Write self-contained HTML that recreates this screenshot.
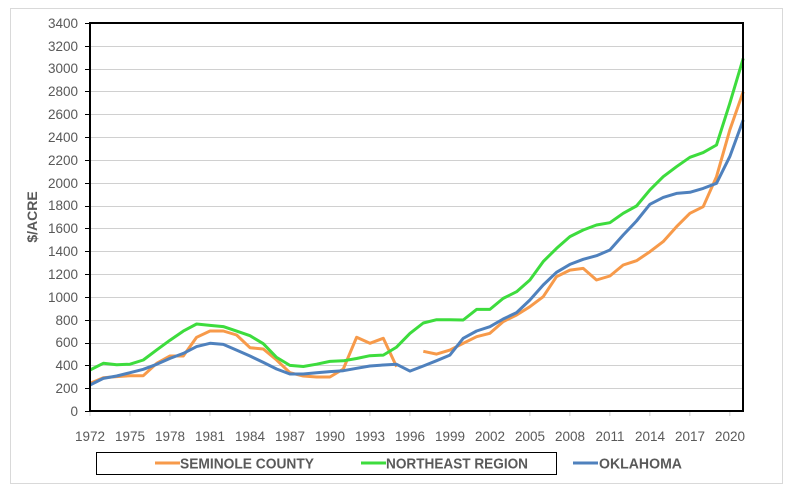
<!DOCTYPE html>
<html><head><meta charset="utf-8"><style>
body{margin:0;background:#fff;width:785px;height:496px;overflow:hidden;font-family:"Liberation Sans",sans-serif}
svg text{font-family:"Liberation Sans",sans-serif}
</style></head><body>
<svg id="s" width="785" height="496" xmlns="http://www.w3.org/2000/svg">
<rect x="10.5" y="8.5" width="772" height="475" fill="none" stroke="#d9d9d9"/>
<g id="grid" stroke="#d0d0d0" stroke-width="1"></g>
<g font-size="13.5" fill="#595959" text-anchor="end">
<text x="78" y="416">0</text><text x="78" y="393">200</text><text x="78" y="370">400</text><text x="78" y="347">600</text><text x="78" y="325">800</text><text x="78" y="302">1000</text><text x="78" y="279">1200</text><text x="78" y="256">1400</text><text x="78" y="233">1600</text><text x="78" y="210">1800</text><text x="78" y="188">2000</text><text x="78" y="165">2200</text><text x="78" y="142">2400</text><text x="78" y="119">2600</text><text x="78" y="96">2800</text><text x="78" y="73">3000</text><text x="78" y="51">3200</text><text x="78" y="28">3400</text>
</g>
<g font-size="13.5" fill="#595959" text-anchor="middle">
<text x="90" y="441">1972</text><text x="130" y="441">1975</text><text x="170" y="441">1978</text><text x="210" y="441">1981</text><text x="250" y="441">1984</text><text x="290" y="441">1987</text><text x="330" y="441">1990</text><text x="370" y="441">1993</text><text x="410" y="441">1996</text><text x="450" y="441">1999</text><text x="490" y="441">2002</text><text x="530" y="441">2005</text><text x="570" y="441">2008</text><text x="610" y="441">2011</text><text x="650" y="441">2014</text><text x="690" y="441">2017</text><text x="730" y="441">2020</text>
</g>
<text transform="translate(37,217) rotate(-90)" font-size="14" font-weight="bold" fill="#595959" text-anchor="middle">$/ACRE</text>
<g id="lines" fill="none" stroke-width="3" stroke-linejoin="round"></g>
<rect x="90" y="23" width="653" height="388" fill="none" stroke="#000" stroke-width="2"/>
<rect x="96.5" y="452.5" width="460" height="22" fill="#fff" stroke="#000"/>
<line x1="155" y1="463" x2="180" y2="463" stroke="#f79a4a" stroke-width="3"/>
<line x1="361" y1="463" x2="386" y2="463" stroke="#3ddc3d" stroke-width="3"/>
<line x1="573" y1="463" x2="598" y2="463" stroke="#4f81bd" stroke-width="3"/>
<g font-size="14.5" font-weight="bold" fill="#595959">
<text x="180" y="468.5" textLength="134" lengthAdjust="spacingAndGlyphs">SEMINOLE COUNTY</text>
<text x="386" y="468.5" textLength="142" lengthAdjust="spacingAndGlyphs">NORTHEAST REGION</text>
<text x="599" y="468.5" textLength="83" lengthAdjust="spacingAndGlyphs">OKLAHOMA</text>
</g>
</svg>
<script>
var X=function(y){return 90+(y-1972)*13.33},Y=function(v){return 411-v*0.11412};
var g=document.getElementById('grid'),h='';
for(var i=1;i<=16;i++){var yy=Math.round(Y(i*200))+0.5;h+='<line x1="90" x2="743" y1="'+yy+'" y2="'+yy+'"/>';}
for(var i=0;i<=17;i++){var yy=Math.round(Y(i*200))+0.5;h+='<line x1="85" x2="90" y1="'+yy+'" y2="'+yy+'" stroke="#000"/>';}
for(var y=1972;y<=2021;y+=3){h+='<line x1="'+X(y)+'" x2="'+X(y)+'" y1="411" y2="416" stroke="#d0d0d0"/>';}
g.innerHTML=h;
var green=[359,418,405,410,447,535,620,700,762,750,740,700,660,590,470,400,390,410,435,440,460,485,490,560,680,771,800,800,797,890,890,987,1045,1148,1309,1425,1528,1586,1630,1650,1732,1796,1937,2053,2141,2223,2264,2331,2696,3090];
var orange=[242,292,301,309,309,418,482,482,646,701,701,666,555,543,447,336,307,298,298,368,646,593,637,388,null,523,499,534,593,651,681,783,841,914,1002,1177,1235,1250,1148,1183,1279,1317,1396,1484,1615,1732,1790,2053,2462,2798];
var blue=[228,286,307,336,365,409,461,505,564,593,584,534,482,426,368,324,324,336,345,353,374,394,403,409,350,394,441,490,637,701,739,806,862,973,1104,1215,1285,1329,1361,1411,1542,1665,1811,1872,1907,1916,1951,1995,2229,2550];
function pl(d,c){var segs=[],cur=[];d.forEach(function(v,i){if(v==null){if(cur.length)segs.push(cur);cur=[];}else cur.push(X(1972+i).toFixed(1)+','+Y(v).toFixed(1));});if(cur.length)segs.push(cur);
return segs.map(function(s){return '<polyline stroke="'+c+'" points="'+s.join(' ')+'"/>'}).join('');}
document.getElementById('lines').innerHTML=pl(orange,'#f79a4a')+pl(green,'#3ddc3d')+pl(blue,'#4f81bd');
</script>
</body></html>
